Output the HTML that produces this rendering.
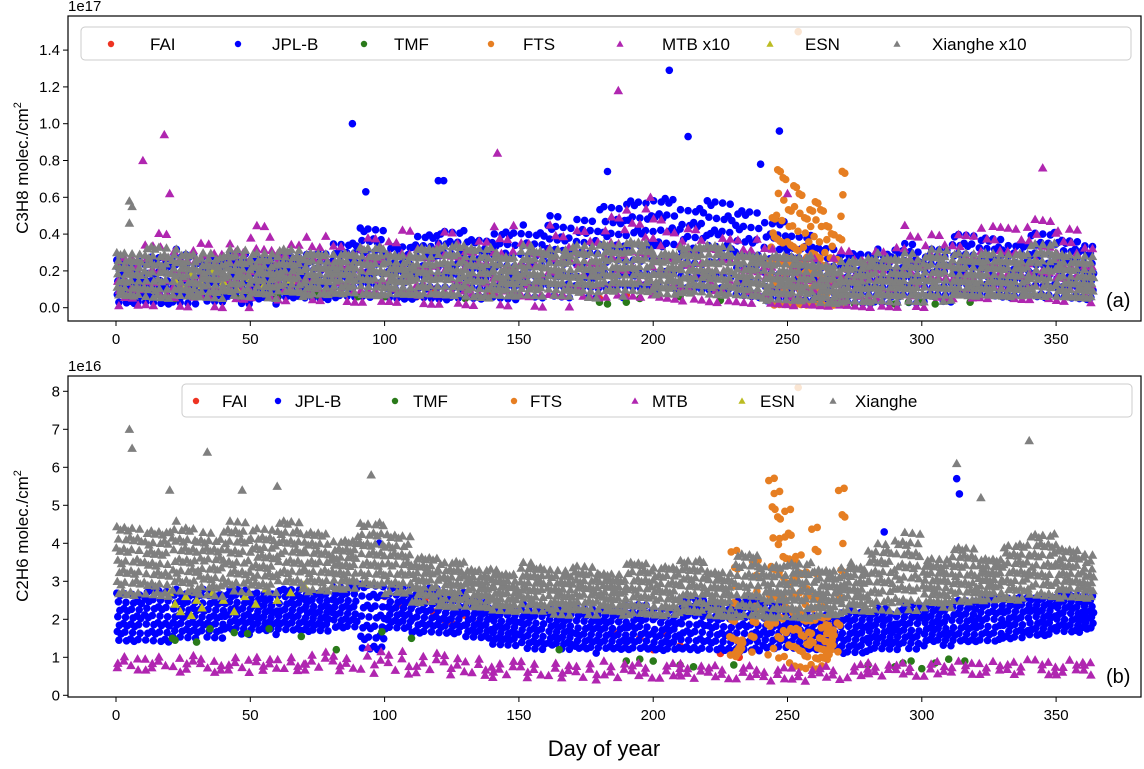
<!DOCTYPE html>
<html><head><meta charset="utf-8">
<style>
body{margin:0;background:#fff;width:1144px;height:764px;overflow:hidden}
svg text{font-family:"Liberation Sans","DejaVu Sans",sans-serif;fill:#000}
</style></head>
<body>
<svg id="chart" width="1144" height="764" xmlns="http://www.w3.org/2000/svg">
<defs>
<clipPath id="clipA"><rect x="68" y="16" width="1073" height="305"/></clipPath>
<clipPath id="clipB"><rect x="68" y="376" width="1073" height="321"/></clipPath>
</defs>
<g id="axA"></g>
<g id="axB"></g>
<text x="604" y="756" font-size="22" text-anchor="middle">Day of year</text>
</svg>
<script>
// ---- data (10-day bins, day 0..360) ----
const xTicks=[0,50,100,150,200,250,300,350];
const yTicksA=[0.0,0.2,0.4,0.6,0.8,1.0,1.2,1.4];
const yTicksB=[0,1,2,3,4,5,6,7,8];
// Top: C3H8 (1e17)
const grayLoA=[0.06,0.05,0.06,0.05,0.06,0.05,0.06,0.05,0.06,0.05,0.06,0.06,0.06,0.05,0.06,0.06,0.06,0.05,0.06,0.06,0.05,0.06,0.05,0.05,0.03,0.03,0.02,0.03,0.03,0.03,0.03,0.04,0.04,0.04,0.04,0.04,0.04];
const grayHiA=[0.32,0.36,0.32,0.3,0.32,0.3,0.32,0.3,0.3,0.34,0.3,0.34,0.36,0.35,0.3,0.34,0.32,0.34,0.35,0.36,0.3,0.34,0.35,0.3,0.3,0.3,0.25,0.28,0.3,0.3,0.32,0.3,0.3,0.3,0.36,0.3,0.3];
const blueLoA=[0.02,0.02,0.02,0.03,0.02,0.02,0.03,0.02,0.03,0.03,0.03,0.03,0.03,0.04,0.04,0.05,0.05,0.05,0.05,0.05,0.05,0.05,0.05,0.03,0.02,0.02,0.02,0.02,0.02,0.02,0.03,0.03,0.03,0.03,0.03,0.03,0.03];
const blueHiA=[0.28,0.3,0.32,0.28,0.3,0.28,0.28,0.3,0.36,0.45,0.35,0.42,0.45,0.4,0.45,0.45,0.5,0.48,0.55,0.58,0.6,0.55,0.6,0.55,0.5,0.42,0.35,0.32,0.32,0.35,0.32,0.4,0.38,0.35,0.42,0.38,0.36];
const magLoA=[0.0,0.0,0.0,0.0,0.0,0.0,0.0,0.0,0.0,0.0,0.0,0.0,0.0,0.0,0.0,0.0,0.0,0.0,0.0,0.0,0.0,0.0,0.0,0.0,0.0,0.0,0.0,0.0,0.0,0.0,0.0,0.0,0.0,0.0,0.0,0.0,0.0];
const magHiA=[0.3,0.45,0.35,0.4,0.35,0.45,0.35,0.4,0.35,0.4,0.45,0.35,0.45,0.4,0.5,0.4,0.45,0.42,0.5,0.55,0.5,0.45,0.4,0.4,0.35,0.3,0.3,0.35,0.35,0.45,0.4,0.4,0.45,0.45,0.5,0.45,0.35];
const orangeDaysA=[244,246,248,250,252,254,256,258,260,262,264,266,270];
const orangeHiA=[0.55,0.85,0.8,0.6,0.75,0.7,0.55,0.6,0.65,0.6,0.5,0.45,0.84];
const outBlueDA=[88,206,213,247,93,183,120,122,240];const outBlueVA=[1.0,1.29,0.93,0.96,0.63,0.74,0.69,0.69,0.78];
const outMagDA=[10,18,187,142,345,20,199,250];const outMagVA=[0.8,0.94,1.18,0.84,0.76,0.62,0.6,0.62];
const outGrayDA=[5,6,5];const outGrayVA=[0.58,0.55,0.46];
const greenDA=[22,30,45,50,60,75,90,100,130,180,183,190,195,210,225,260,275,290,295,300,305,310,318];
const greenVA=[0.05,0.06,0.05,0.07,0.06,0.07,0.06,0.06,0.05,0.03,0.02,0.03,0.05,0.06,0.04,0.04,0.02,0.02,0.03,0.03,0.02,0.04,0.03];
// Bottom: C2H6 (1e16)
const grayLoB=[2.6,2.6,2.7,2.6,2.7,2.7,2.8,2.6,2.7,2.8,2.6,2.4,2.3,2.3,2.2,2.2,2.1,2.1,2.1,2.0,2.0,2.1,2.0,2.0,2.0,2.0,2.1,2.2,2.2,2.2,2.3,2.3,2.4,2.4,2.5,2.5,2.5];
const grayHiB=[4.6,4.5,4.6,4.3,4.6,4.4,4.6,4.3,4.1,4.6,4.3,3.7,3.6,3.4,3.3,3.5,3.3,3.4,3.2,3.5,3.4,3.6,3.3,3.8,3.5,3.6,3.4,3.5,4.0,4.3,3.6,3.9,3.6,4.0,4.3,3.9,3.8];
const blueLoB=[1.4,1.4,1.5,1.5,1.6,1.6,1.6,1.6,1.7,1.1,1.7,1.6,1.6,1.5,1.3,1.2,1.2,1.1,1.1,1.1,1.1,1.1,1.1,1.1,1.2,1.2,1.2,1.1,1.2,1.2,1.3,1.3,1.3,1.4,1.5,1.6,1.7];
const blueHiB=[2.8,2.9,2.8,2.8,2.8,2.7,2.8,2.7,2.9,3.0,2.9,2.9,2.8,2.6,2.4,2.4,2.3,2.3,2.3,2.4,2.3,2.6,2.5,2.6,2.5,2.3,2.2,2.3,2.3,2.4,2.4,2.5,2.6,2.6,2.6,2.7,2.7];
const magLoB=[0.65,0.65,0.6,0.6,0.6,0.6,0.6,0.6,0.6,0.5,0.5,0.55,0.5,0.5,0.45,0.45,0.45,0.4,0.4,0.4,0.4,0.4,0.4,0.4,0.35,0.35,0.4,0.45,0.5,0.5,0.5,0.5,0.5,0.5,0.5,0.5,0.5];
const magHiB=[1.05,1.05,1.1,1.0,1.05,1.0,1.0,1.15,1.05,1.3,1.2,1.15,1.1,1.0,0.95,0.95,0.9,0.9,0.9,0.85,0.85,0.85,0.8,0.8,0.75,0.75,0.8,0.85,0.9,0.9,0.95,0.9,0.9,0.95,0.95,0.95,0.95];
const orangeDaysB=[230,232,238,244,246,248,250,252,254,256,258,260,262,264,266,270];
const orangeLoB=[0.9,1.0,1.0,0.8,1.0,0.8,0.8,0.7,0.6,0.6,0.6,0.6,0.6,0.7,0.9,0.9];
const orangeHiB=[4.1,1.5,3.8,6.2,5.8,4.5,5.3,3.8,4.0,3.5,2.8,4.8,2.5,2.2,1.8,5.9];
const outGrayDB=[5,6,34,340,20,95,60,313,322,47];const outGrayVB=[7.0,6.5,6.4,6.7,5.4,5.8,5.5,6.1,5.2,5.4];
const outBlueDB=[313,314,98,286];const outBlueVB=[5.7,5.3,4.0,4.3];
const esnDB=[20,22,24,26,28,30,32,36,40,44,48,52,56,60,65,70];
const esnVB=[2.7,2.4,2.2,2.6,2.1,2.5,2.3,2.7,2.5,2.2,2.6,2.4,2.8,2.5,2.7,2.9];
const greenDB=[21,22,30,35,44,49,57,69,82,99,110,165,190,195,200,210,215,230,280,290,293,296,300,305,310,316];
const greenVB=[1.5,1.45,1.4,1.75,1.65,1.62,1.75,1.55,1.2,1.67,1.5,1.2,0.9,0.95,0.9,0.8,0.75,0.8,0.8,0.75,0.85,0.9,0.7,0.85,0.95,0.9];
const faiDB=[100,105,115,118,122,125,130,135,140,185,190,195,200,205,210,225,232];
const faiVB=[2.6,2.4,2.5,2.2,2.0,1.9,2.1,1.9,2.2,1.7,1.4,1.5,1.2,1.6,1.3,1.1,1.0];

// ---- helpers ----
const NS='http://www.w3.org/2000/svg';
const X0=116,PX=2.686;
const xS=d=>X0+d*PX;
const yA=v=>307.7-v*184;
const yB=v=>695.3-v*38;
const C={fai:'#ee3322',jpl:'#0000ff',tmf:'#2a7a1a',fts:'#e67e22',mtb:'#b026b0',esn:'#bcbc22',xh:'#7f7f7f'};
function mk(tag,attrs,parent){const e=document.createElementNS(NS,tag);for(const k in attrs)e.setAttribute(k,attrs[k]);parent.appendChild(e);return e;}
function mark(g,shape,x,y,col,s){
  let e;
  if(shape==='o'){e=mk('circle',{cx:x.toFixed(1),cy:y.toFixed(1),r:s||3.8,fill:col},g);}
  else{const r=s||4.8;e=mk('polygon',{points:`${x.toFixed(1)},${(y-r).toFixed(1)} ${(x-r).toFixed(1)},${(y+r*0.75).toFixed(1)} ${(x+r).toFixed(1)},${(y+r*0.75).toFixed(1)}`,fill:col},g);}
  
  
  return e;
}
const fr=v=>v-Math.floor(v);
function band(g,shape,lo,hi,n,col,ys,dayMax,seed){
  for(let b=0;b<lo.length;b++){
    for(let i=0;i<n;i++){
      const d=b*10+10*fr(0.5+(i+b*7+seed)*0.7548777);
      if(d>dayMax)continue;
      const f=fr(0.5+(i+b*7+seed)*0.5698403);
      mark(g,shape,xS(d),ys(lo[b]+(hi[b]-lo[b])*f),col);
    }
  }
}
function pts(g,shape,ds,vs,col,ys){for(let i=0;i<ds.length;i++)mark(g,shape,xS(ds[i]),ys(vs[i]),col);}
function frame(g,top,h,yt,ys,fmt,mult){
  const f=mk('rect',{x:68,y:top,width:1073,height:h,fill:'none',stroke:'#000','stroke-width':1.2},g);
  
  
  xTicks.forEach(t=>{const x=xS(t);mk('line',{x1:x,x2:x,y1:top+h,y2:top+h+5,stroke:'#000'},g);
    const tx=mk('text',{x:x,y:top+h+23,'font-size':15,'text-anchor':'middle'},g);tx.textContent=t;
    
    });
  yt.forEach(t=>{const y=ys(t);mk('line',{x1:63,x2:68,y1:y,y2:y,stroke:'#000'},g);
    const tx=mk('text',{x:60,y:y+5,'font-size':15,'text-anchor':'end'},g);tx.textContent=fmt(t);
    
    });
  const m=mk('text',{x:68,y:top-5,'font-size':15},g);m.textContent=mult;
  
  
}
function legend(g,x,y,w,items){
  const r=mk('rect',{x:x,y:y,width:w,height:33,rx:4,fill:'#fff','fill-opacity':0.8,stroke:'#ccc'},g);
  
  
  items.forEach(it=>{mark(g,it[1],it[2],y+17,C[it[0]],it[1]==='o'?3.2:3.6);
    const t=mk('text',{x:it[3],y:y+23,'font-size':17},g);t.textContent=it[4];
    
    });
}
// ---- top panel ----
const gA=document.getElementById('axA');
const pA=mk('g',{'clip-path':'url(#clipA)'},gA);
pts(pA,'o',[105,112,118,125,130,135,140,180,190],[0.08,0.06,0.1,0.07,0.09,0.06,0.08,0.05,0.07],C.fai,yA);
band(pA,'o',blueLoA,blueHiA,34,C.jpl,yA,364,3);
pts(pA,'o',outBlueDA,outBlueVA,C.jpl,yA);
pts(pA,'o',greenDA,greenVA,C.tmf,yA);
for(let i=0;i<orangeDaysA.length;i++)for(let k=0;k<10;k++)mark(pA,'o',xS(orangeDaysA[i]+fr(k*0.618)*3-1.5),yA(orangeHiA[i]*fr(0.3+k*0.5698)+0.01),C.fts);
mark(pA,'o',xS(254),yA(1.5),C.fts);
band(pA,'^',magLoA,magHiA,16,C.mtb,yA,364,11);
pts(pA,'^',outMagDA,outMagVA,C.mtb,yA);
pts(pA,'^',[22,25,28,32,36,40,45,50,55,60,65],[0.15,0.1,0.18,0.12,0.2,0.14,0.1,0.16,0.12,0.18,0.15],C.esn,yA);
band(pA,'^',grayLoA,grayHiA,40,C.xh,yA,364,0);
pts(pA,'^',outGrayDA,outGrayVA,C.xh,yA);
frame(gA,16,305,yTicksA,yA,t=>t.toFixed(1),'1e17');
legend(gA,81,27,1050,[['fai','o',111,150,'FAI'],['jpl','o',238,272,'JPL-B'],['tmf','o',364,394,'TMF'],['fts','o',491,523,'FTS'],['mtb','^',620,662,'MTB x10'],['esn','^',770,805,'ESN'],['xh','^',897,932,'Xianghe x10']]);
const la=mk('text',{x:1106,y:307,'font-size':20},gA);la.textContent='(a)';


const ya=mk('text',{x:0,y:0,'font-size':17,'text-anchor':'middle',transform:'translate(28,168) rotate(-90)'},gA);
ya.innerHTML='C3H8 molec./cm<tspan dy="-7" font-size="11">2</tspan>';


// ---- bottom panel ----
const gB=document.getElementById('axB');
const pB=mk('g',{'clip-path':'url(#clipB)'},gB);
pts(pB,'o',faiDB,faiVB,C.fai,yB);
band(pB,'o',blueLoB,blueHiB,36,C.jpl,yB,364,5);
pts(pB,'o',outBlueDB,outBlueVB,C.jpl,yB);
pts(pB,'o',greenDB,greenVB,C.tmf,yB);
for(let i=0;i<orangeDaysB.length;i++)for(let k=0;k<12;k++)mark(pB,'o',xS(orangeDaysB[i]+fr(k*0.618)*3-1.5),yB(orangeLoB[i]+(orangeHiB[i]-orangeLoB[i])*fr(0.2+k*0.5698)),C.fts);
mark(pB,'o',xS(254),yB(8.1),C.fts);
band(pB,'^',magLoB,magHiB,7,C.mtb,yB,364,9);
pts(pB,'^',esnDB,esnVB,C.esn,yB);
band(pB,'^',grayLoB,grayHiB,42,C.xh,yB,364,1);
pts(pB,'^',outGrayDB,outGrayVB,C.xh,yB);
frame(gB,376,321,yTicksB,yB,t=>String(t),'1e16');
legend(gB,182,384,950,[['fai','o',196,222,'FAI'],['jpl','o',278,295,'JPL-B'],['tmf','o',395,413,'TMF'],['fts','o',514,530,'FTS'],['mtb','^',635,652,'MTB'],['esn','^',742,760,'ESN'],['xh','^',833,855,'Xianghe']]);
const lb=mk('text',{x:1106,y:683,'font-size':20},gB);lb.textContent='(b)';


const yb=mk('text',{x:0,y:0,'font-size':17,'text-anchor':'middle',transform:'translate(28,536) rotate(-90)'},gB);
yb.innerHTML='C2H6 molec./cm<tspan dy="-7" font-size="11">2</tspan>';


</script>
</body></html>
